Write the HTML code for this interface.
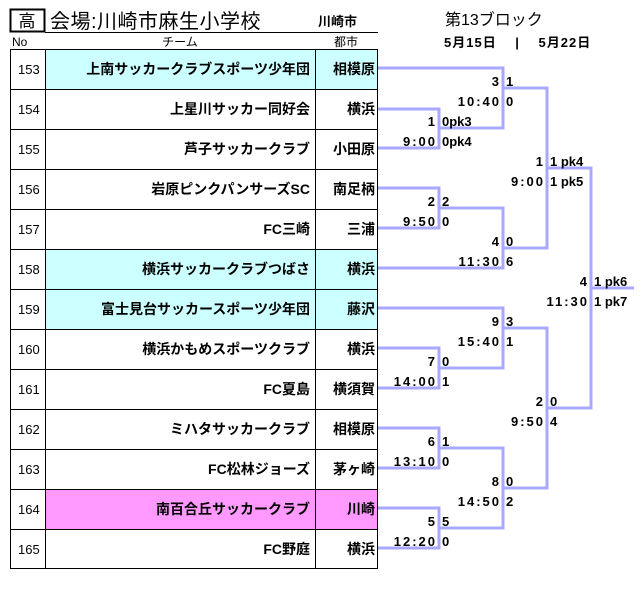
<!DOCTYPE html>
<html><head><meta charset="utf-8"><style>
body{margin:0;background:#fff;}
svg{display:block;}
text{font-family:"Liberation Sans","Noto Sans CJK JP",sans-serif;fill:#000;}
.t{font-size:14px;font-weight:bold;text-anchor:end;}
.n{font-size:13px;}
.s{font-size:13px;font-weight:bold;}
.r{text-anchor:end;}
.tm{letter-spacing:2px;}
</style></head><body>
<svg width="643" height="591" viewBox="0 0 643 591" xmlns="http://www.w3.org/2000/svg">
<rect x="10.5" y="9.5" width="34" height="22" fill="none" stroke="#000" stroke-width="2"/>
<text x="27" y="27" style="font-size:17px;text-anchor:middle">高</text>
<text x="50" y="28" style="font-size:20px;letter-spacing:0.5px">会場:川崎市麻生小学校</text>
<text x="318" y="26" style="font-size:13px;font-weight:bold">川崎市</text>
<line x1="45" y1="32.5" x2="378" y2="32.5" stroke="#000" stroke-width="1"/>
<text x="445" y="25" style="font-size:16px">第13ブロック</text>
<text x="444" y="47" class="s" style="letter-spacing:1px">5月15日　 |　 5月22日</text>
<text x="12" y="46" style="font-size:12px">No</text>
<text x="180" y="46" style="font-size:12px;text-anchor:middle">チーム</text>
<text x="346" y="46" style="font-size:12px;text-anchor:middle">都市</text>
<rect x="45" y="49" width="333" height="40" fill="#ccffff"/>
<rect x="45" y="249" width="333" height="40" fill="#ccffff"/>
<rect x="45" y="289" width="333" height="40" fill="#ccffff"/>
<rect x="45" y="489" width="333" height="40" fill="#ff99ff"/>
<g stroke="#000" stroke-width="1" fill="none">
<rect x="10.5" y="49.5" width="367" height="519"/>
<line x1="45.5" y1="49" x2="45.5" y2="569"/>
<line x1="315.5" y1="49" x2="315.5" y2="569"/>
<path d="M10 89.5H378M10 129.5H378M10 169.5H378M10 209.5H378M10 249.5H378M10 289.5H378M10 329.5H378M10 369.5H378M10 409.5H378M10 449.5H378M10 489.5H378M10 529.5H378"/>
</g>
<g class="n">
<text x="18" y="74">153</text><text x="18" y="114">154</text><text x="18" y="154">155</text><text x="18" y="194">156</text><text x="18" y="234">157</text><text x="18" y="274">158</text><text x="18" y="314">159</text><text x="18" y="354">160</text><text x="18" y="394">161</text><text x="18" y="434">162</text><text x="18" y="474">163</text><text x="18" y="514">164</text><text x="18" y="554">165</text>
</g>
<g class="t">
<text x="310" y="74">上南サッカークラブスポーツ少年団</text>
<text x="310" y="114">上星川サッカー同好会</text>
<text x="310" y="154">芦子サッカークラブ</text>
<text x="310" y="194">岩原ピンクパンサーズSC</text>
<text x="310" y="234">FC三崎</text>
<text x="310" y="274">横浜サッカークラブつばさ</text>
<text x="310" y="314">富士見台サッカースポーツ少年団</text>
<text x="310" y="354">横浜かもめスポーツクラブ</text>
<text x="310" y="394">FC夏島</text>
<text x="310" y="434">ミハタサッカークラブ</text>
<text x="310" y="474">FC松林ジョーズ</text>
<text x="310" y="514">南百合丘サッカークラブ</text>
<text x="310" y="554">FC野庭</text>
<text x="375" y="74">相模原</text>
<text x="375" y="114">横浜</text>
<text x="375" y="154">小田原</text>
<text x="375" y="194">南足柄</text>
<text x="375" y="234">三浦</text>
<text x="375" y="274">横浜</text>
<text x="375" y="314">藤沢</text>
<text x="375" y="354">横浜</text>
<text x="375" y="394">横須賀</text>
<text x="375" y="434">相模原</text>
<text x="375" y="474">茅ヶ崎</text>
<text x="375" y="514">川崎</text>
<text x="375" y="554">横浜</text>
</g>
<g stroke="#a8a8ff" stroke-width="3" fill="none">
<path d="M378 68H503V128H439"/>
<path d="M378 109H439V148H378"/>
<path d="M503 88H547V248H503"/>
<path d="M378 188H439V228H378"/>
<path d="M439 208H503V268H378"/>
<path d="M547 168H591V408H547"/>
<path d="M591 288H634"/>
<path d="M378 308H503V368H439"/>
<path d="M378 348H439V388H378"/>
<path d="M503 328H547V488H503"/>
<path d="M378 428H439V468H378"/>
<path d="M439 448H503V528H439"/>
<path d="M378 508H439V548H378"/>
</g>
<g class="s">
<g class="r">
<text x="499" y="86">3</text><text x="501" y="106" class="tm">10:40</text>
<text x="435" y="126">1</text><text x="437" y="146" class="tm">9:00</text>
<text x="543" y="166">1</text><text x="545" y="186" class="tm">9:00</text>
<text x="435" y="206">2</text><text x="437" y="226" class="tm">9:50</text>
<text x="499" y="246">4</text><text x="501" y="266" class="tm">11:30</text>
<text x="587" y="286">4</text><text x="589" y="306" class="tm">11:30</text>
<text x="499" y="326">9</text><text x="501" y="346" class="tm">15:40</text>
<text x="435" y="366">7</text><text x="437" y="386" class="tm">14:00</text>
<text x="543" y="406">2</text><text x="545" y="426" class="tm">9:50</text>
<text x="435" y="446">6</text><text x="437" y="466" class="tm">13:10</text>
<text x="499" y="486">8</text><text x="501" y="506" class="tm">14:50</text>
<text x="435" y="526">5</text><text x="437" y="546" class="tm">12:20</text>
</g>
<text x="506" y="86">1</text><text x="506" y="106">0</text>
<text x="442" y="126">0pk3</text><text x="442" y="146">0pk4</text>
<text x="550" y="166">1 pk4</text><text x="550" y="186">1 pk5</text>
<text x="442" y="206">2</text><text x="442" y="226">0</text>
<text x="506" y="246">0</text><text x="506" y="266">6</text>
<text x="594" y="286">1 pk6</text><text x="594" y="306">1 pk7</text>
<text x="506" y="326">3</text><text x="506" y="346">1</text>
<text x="442" y="366">0</text><text x="442" y="386">1</text>
<text x="550" y="406">0</text><text x="550" y="426">4</text>
<text x="442" y="446">1</text><text x="442" y="466">0</text>
<text x="506" y="486">0</text><text x="506" y="506">2</text>
<text x="442" y="526">5</text><text x="442" y="546">0</text>
</g>
</svg>
</body></html>
